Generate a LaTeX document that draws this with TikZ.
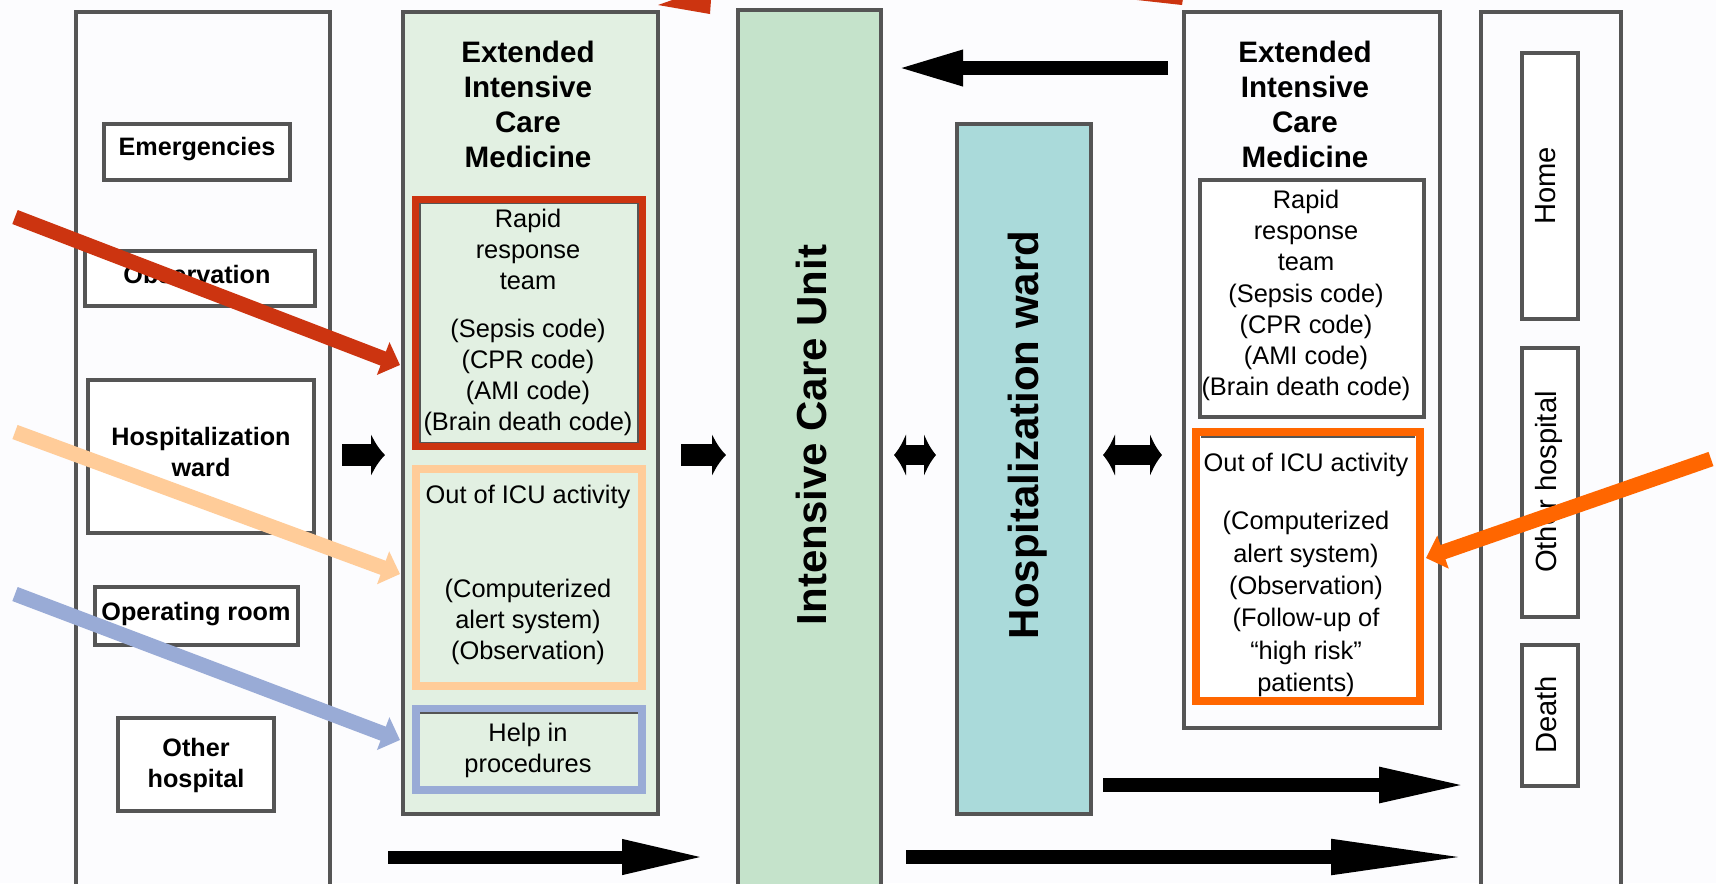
\documentclass[tikz,border=0pt]{standalone}
\usepackage{fontspec}
\setmainfont{Liberation Sans}
\usetikzlibrary{arrows.meta,fit,calc}
\definecolor{boxline}{RGB}{85,85,85}
\definecolor{paper}{RGB}{252,252,254}
\definecolor{extgreen}{RGB}{226,240,226}
\definecolor{icugreen}{RGB}{197,227,203}
\definecolor{hospteal}{RGB}{170,218,218}
\definecolor{redc}{RGB}{204,52,16}
\definecolor{peach}{RGB}{255,204,153}
\definecolor{bluec}{RGB}{153,171,214}
\definecolor{orangec}{RGB}{255,102,0}
\begin{document}
\begin{tikzpicture}[x=0.25pt,y=-0.25pt,
 boxstyle/.style={draw=boxline,line width=0.9pt,inner sep=0pt,outer sep=0pt},
 hlframe/.style={line width=1.8pt,inner sep=0pt,outer sep=0pt},
 lbltxt/.style={inner sep=0pt,align=center,font=\fontsize{6.3}{7.75}\selectfont\bfseries},
 hdtext/.style={inner sep=0pt,align=center,font=\fontsize{7.4}{8.75}\selectfont\bfseries},
 txt/.style={inner sep=0pt,align=center,font=\fontsize{6.35}{7.8}\selectfont},
 txtr/.style={inner sep=0pt,align=center,font=\fontsize{6.35}{8.1}\selectfont},
 vtext/.style={inner sep=0pt,rotate=90,font=\fontsize{10.5}{12}\selectfont\bfseries},
 desttext/.style={inner sep=0pt,rotate=90,font=\fontsize{7.3}{9}\selectfont},
 fatarrow/.style={line width=5.5pt,-{Latex[length=3.5pt,width=11pt]}},
 fatdouble/.style={line width=5pt,{Latex[length=3pt,width=11pt]}-{Latex[length=3pt,width=11pt]}},
 longarrow/.style={line width=3.6pt,-{Triangle[length=#1,width=8pt]}},
 callout/.style={line width=3.75pt,draw=#1,-{Triangle[length=4.5pt,width=8.5pt]}}]
\useasboundingbox (0,0) rectangle (1716,883);
\clip (0,0) rectangle (1716,883);
\fill[paper] (0,0) rectangle (1716,883);

% left column: origins
\node[boxstyle,fill=paper,fit={(76,12) (330,900)}] (src) {};
\node[boxstyle,fill=white,fit={(104,124) (290,180)}] (emb) {};
\node[boxstyle,fill=white,fit={(85,251) (315,306)}] (obb) {};
\node[boxstyle,fill=white,fit={(88,380) (314,533)}] (hwb) {};
\node[boxstyle,fill=white,fit={(95,587) (298,645)}] (orb) {};
\node[boxstyle,fill=white,fit={(118,718) (274,811)}] (ohb) {};
\node[lbltxt] (emt) at (197,149) {Emergencies};
\node[lbltxt] (obt) at (197,274.5) {Observation};
\node[lbltxt] (hwt) at (201,452) {Hospitalization\\ward};
\node[lbltxt] (ort) at (196,614) {Operating room};
\node[lbltxt] (oht) at (196,765) {Other\\hospital};

% left extended intensive care medicine
\node[boxstyle,fill=extgreen,fit={(403,12) (658,814)}] (ext) {};
\node[hdtext] (exth) at (528,104.5) {Extended\\Intensive\\Care\\Medicine};
\node[hlframe,draw=redc,fit={(415.5,199.5) (642.5,446.5)}] (rrt) {};
\draw[boxline,line width=0.4pt] (420,203.5) rectangle (638,442.5);
\node[txt] (rrtt) at (528,322.5) {Rapid\\response\\team\\[4pt](Sepsis code)\\(CPR code)\\(AMI code)\\(Brain death code)};
\node[hlframe,draw=peach,fit={(416,469) (642,686)}] (pk) {};
\node[txt] (pkt) at (528,575) {Out of ICU activity\\[15.6pt](Computerized\\alert system)\\(Observation)};
\node[hlframe,draw=bluec,fit={(416,709) (642,790)}] (hp) {};
\draw[boxline,line width=0.4pt] (420,713) -- (638,713);
\node[txt] (hpt) at (528,750.5) {Help in\\procedures};

% ICU and ward
\node[boxstyle,fill=icugreen,fit={(738,10) (881,900)}] (icu) {};
\node[vtext] (icut) at (811,435) {Intensive Care Unit};
\node[boxstyle,fill=hospteal,fit={(957,124) (1091,814)}] (hosp) {};
\node[vtext] (hospt) at (1028,435) {Hospitalization ward};

% right extended intensive care medicine
\node[boxstyle,fill=paper,fit={(1184,12) (1440,728)}] (rext) {};
\node[hdtext] (rexth) at (1305,104.5) {Extended\\Intensive\\Care\\Medicine};
\node[boxstyle,fill=white,fit={(1200,180) (1424,417)}] (rrr) {};
\node[txtr,font=\fontsize{6.35}{7.8}\selectfont] (rrrt) at (1306,295.5) {Rapid\\response\\team\\(Sepsis code)\\(CPR code)\\(AMI code)\\(Brain death code)};
\node[hlframe,draw=orangec,fill=white,fit={(1196,432) (1420,701)}] (oa) {};
\draw[boxline,line width=0.4pt] (1201,437) -- (1415,437);
\node[txtr] (oat) at (1306,575) {Out of ICU activity\\[6.5pt](Computerized\\alert system)\\(Observation)\\(Follow-up of\\``high risk''\\patients)};

% destinations
\node[boxstyle,fill=paper,fit={(1481,12) (1621,900)}] (dst) {};
\node[boxstyle,fill=white,fit={(1522,53) (1578,319)}] (homeb) {};
\node[boxstyle,fill=white,fit={(1522,348) (1578,617)}] (othb) {};
\node[boxstyle,fill=white,fit={(1522,645) (1578,786)}] (deathb) {};
\node[desttext] (homet) at (1545.6,186) {Home};
\node[desttext] (otht) at (1548.7,482) {Other hospital};
\node[desttext] (deatht) at (1545.6,715) {Death};

% black connectors
\draw[fatarrow] ($(src.east |- 0,455)+(12,0)$) -- ($(ext.west |- 0,455)+(-18,0)$);
\draw[fatarrow] ($(ext.east |- 0,455)+(23,0)$) -- ($(icu.west |- 0,455)+(-12,0)$);
\draw[fatdouble] ($(icu.east |- 0,455)+(13,0)$) -- ($(hosp.west |- 0,455)+(-21,0)$);
\draw[fatdouble] ($(hosp.east |- 0,455)+(12,0)$) -- ($(rext.west |- 0,455)+(-22,0)$);
\draw[longarrow=17pt] ($(rext.west |- 0,68)+(-16,0)$) -- ($(icu.east |- 0,68)+(14,0)$);
\draw[longarrow=21pt,line width=3.25pt] ($(ext.west |- 0,857)+(-15,0)$) -- ($(icu.west |- 0,857)+(-32,0)$);
\draw[longarrow=22.5pt] ($(hosp.east |- 0,785)+(12,0)$) -- ($(dst.west |- 0,785)+(-12,0)$);
\draw[longarrow=35pt] ($(icu.east |- 0,857)+(25,0)$) -- ($(dst.west |- 0,857)+(-10,0)$);

% coloured callout arrows
\coordinate (redtail) at (15,217);
\coordinate (peachtail) at (15,432);
\coordinate (bluetail) at (15,594);
\coordinate (orangetail) at (1711,459);
\draw[callout=redc] (redtail) -- ($(rrt.west |- 0,365)+(-15.5,0)$);
\draw[callout=peach] (peachtail) -- ($(pk.west |- 0,574)+(-16,0)$);
\draw[callout=bluec] (bluetail) -- ($(hp.west |- 0,740)+(-16,0)$);
\draw[callout=orangec] (orangetail) -- ($(oa.east |- 0,558)+(6,0)$);
\fill[redc] (658,5) -- (710,14) -- (712,-14) -- cycle;
\fill[redc] (1128,-1) -- (1182,5) -- (1186,-20) -- cycle;
\end{tikzpicture}
\end{document}
